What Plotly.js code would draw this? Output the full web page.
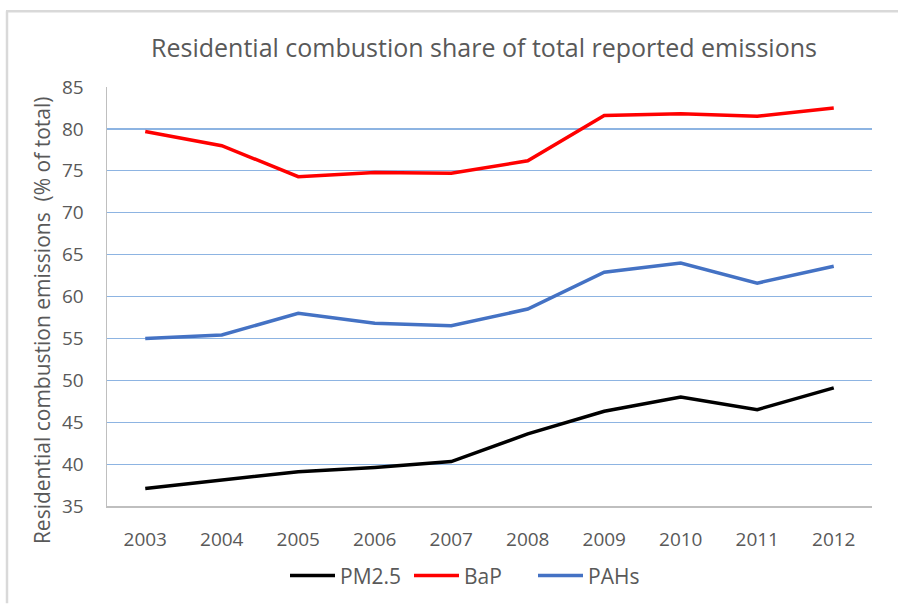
<!DOCTYPE html>
<html><head><meta charset="utf-8">
<script src="https://cdn.plot.ly/plotly-3.0.1.min.js"></script>
<style>body{margin:0;background:#fff}#c{width:898px;height:608px}</style>
</head><body><div id="c"></div>
<script>
var years = ['2003','2004','2005','2006','2007','2008','2009','2010','2011','2012'];
var pm25 = [37.1, 38.1, 39.1, 39.6, 40.3, 43.6, 46.3, 48.0, 46.5, 49.1];
var bap  = [79.7, 78.0, 74.3, 74.8, 74.7, 76.2, 81.6, 81.8, 81.5, 82.5];
var pahs = [55.0, 55.4, 58.0, 56.8, 56.5, 58.5, 62.9, 64.0, 61.6, 63.6];
var yTicks = [35, 40, 45, 50, 55, 60, 65, 70, 75, 80, 85];

var W = 898, H = 608, L = 107, R = 26, T = 87, B = 95;
var pw = W - L - R, ph = H - T - B;
function px(x){ return (x - L) / pw; }
function py(y){ return (H - B - y) / ph; }

var font = "Open Sans, sans-serif";
var traces = [
  {x: years, y: pm25, name: 'PM2.5', type: 'scatter', mode: 'lines', line: {color: '#000000', width: 3.5}},
  {x: years, y: bap,  name: 'BaP',   type: 'scatter', mode: 'lines', line: {color: '#ff0000', width: 3.5}},
  {x: years, y: pahs, name: 'PAHs',  type: 'scatter', mode: 'lines', line: {color: '#4472c4', width: 3.5}}
];
var layout = {
  width: W, height: H,
  margin: {l: L, r: R, t: T, b: B},
  paper_bgcolor: '#ffffff', plot_bgcolor: '#ffffff',
  font: {family: font, color: '#595959', size: 19},
  title: {text: 'Residential combustion share of total reported emissions', x: 0.539, xanchor: 'center', y: 1 - 48/H, yanchor: 'middle', font: {family: font, size: 25, color: '#595959'}},
  xaxis: {type: 'category', range: [-0.5, 9.5], showgrid: false, showline: true, linecolor: '#bfbfbf', linewidth: 1.5, ticks: 'outside', ticklen: 16, tickcolor: 'rgba(0,0,0,0)', tickfont: {size: 19, color: '#595959'}, automargin: false, fixedrange: true},
  yaxis: {range: [35, 85], tickvals: yTicks, showgrid: true, gridcolor: '#8db4e2', gridwidth: 1.2, showline: true, linecolor: '#bfbfbf', linewidth: 1.5, zeroline: false, ticks: 'outside', ticklen: 18, tickcolor: 'rgba(0,0,0,0)', tickfont: {size: 19, color: '#595959'}, automargin: false, fixedrange: true},
  annotations: [
    {text: 'Residential combustion emissions  (% of total)', xref: 'paper', yref: 'paper', x: px(42), y: py(324), xanchor: 'center', yanchor: 'middle', textangle: -90, showarrow: false, font: {family: font, size: 21, color: '#595959'}}
  ],
  legend: {orientation: 'h', x: px(285), xanchor: 'left', y: py(584), yanchor: 'middle', font: {size: 21, color: '#595959'}, itemwidth: 45, entrywidth: 64, entrywidthmode: 'pixels', tracegroupgap: 0},
  showlegend: true,
  shapes: [
    {type: 'line', xref: 'paper', yref: 'paper', x0: px(7), x1: px(7), y0: py(10), y1: py(612), line: {color: '#d9d9d9', width: 2.5}},
    {type: 'line', xref: 'paper', yref: 'paper', x0: px(6), x1: px(902), y0: py(10), y1: py(10), line: {color: '#d9d9d9', width: 2.5}}
  ]
};
Plotly.newPlot('c', traces, layout, {displayModeBar: false, staticPlot: true});
</script></body></html>
